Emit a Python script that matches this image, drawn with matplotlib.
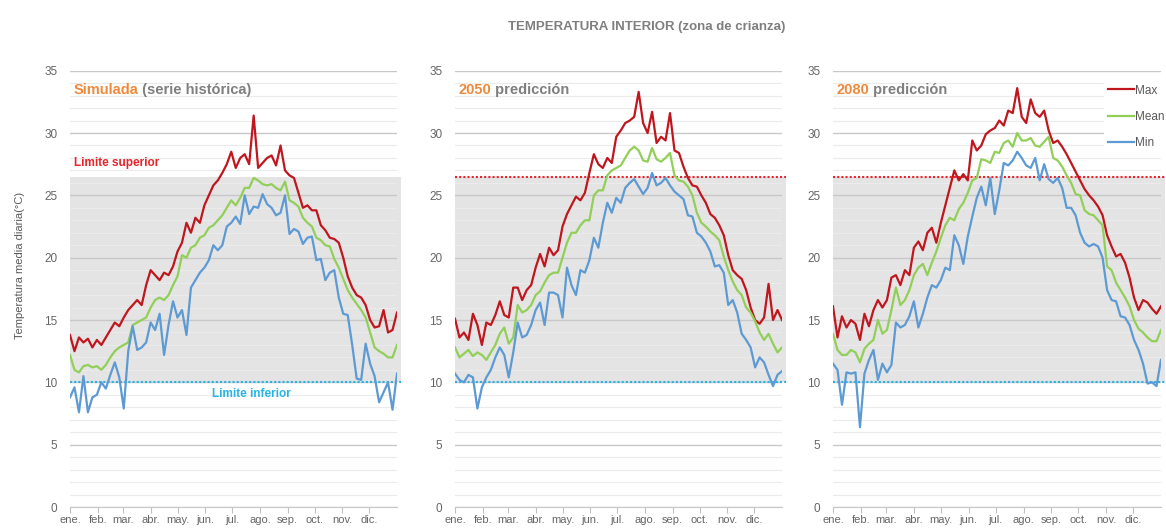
import matplotlib
matplotlib.use("Agg")
import matplotlib.pyplot as plt
from matplotlib import font_manager
from matplotlib.ticker import MultipleLocator

# narrow sans if the system has it, otherwise the regular one
installed = {f.name for f in font_manager.fontManager.ttflist}
base_font = "Liberation Sans Narrow" if "Liberation Sans Narrow" in installed else "Liberation Sans"
plt.rcParams["font.family"] = [base_font, "DejaVu Sans"]

# day of year, sampled every 5 days
days = list(range(0, 366, 5))

month_starts = [0, 31, 59, 90, 120, 151, 181, 212, 243, 273, 304, 334]
month_labels = ["ene.", "feb.", "mar.", "abr.", "may.", "jun.",
                "jul.", "ago.", "sep.", "oct.", "nov.", "dic."]

limit_low = 10.0
limit_high = 26.5

# simulated historical series (°C)
hist_max = [13.8, 12.5, 13.6, 13.2, 13.5, 12.8, 13.4, 13.0, 13.6, 14.2,
            14.8, 14.5, 15.2, 15.8, 16.2, 16.6, 16.2, 17.8, 19.0, 18.6,
            18.2, 18.8, 18.6, 19.3, 20.5, 21.2, 22.8, 22.0, 23.2, 22.8,
            24.2, 25.0, 25.8, 26.2, 26.8, 27.5, 28.5, 27.2, 28.0, 28.3,
            27.5, 31.4, 27.2, 27.6, 28.0, 28.2, 27.4, 29.0, 27.0, 26.6,
            26.4, 25.2, 24.0, 24.2, 23.8, 23.8, 22.6, 22.2, 21.6, 21.5,
            21.2, 20.0, 18.5, 17.6, 17.0, 16.8, 16.2, 15.0, 14.4, 14.5,
            15.8, 14.0, 14.2, 15.6]
hist_mean = [12.2, 11.0, 10.8, 11.3, 11.4, 11.2, 11.3, 11.0, 11.4, 12.0,
             12.5, 12.8, 13.0, 13.2, 14.6, 14.8, 15.0, 15.2, 16.0, 16.6,
             16.8, 16.6, 17.0, 17.8, 18.5, 20.2, 20.0, 20.8, 21.0, 21.6,
             21.8, 22.4, 22.6, 23.0, 23.4, 24.0, 24.6, 24.2, 24.8, 25.6,
             25.6, 26.4, 26.2, 25.9, 25.8, 25.9, 25.6, 25.4, 26.1, 24.6,
             24.4, 24.1, 23.2, 22.8, 22.5, 21.6, 21.4, 21.0, 20.9, 19.9,
             19.2, 18.3, 17.4, 16.8, 16.3, 15.8, 15.2, 14.0, 12.8, 12.5,
             12.3, 12.0, 12.0, 13.0]
hist_min = [8.8, 9.6, 7.6, 10.5, 7.6, 8.8, 9.0, 10.0, 9.5, 10.6,
            11.6, 10.4, 7.9, 12.5, 14.5, 12.6, 12.8, 13.2, 14.8, 14.2,
            15.5, 12.2, 14.6, 16.5, 15.2, 15.8, 13.8, 17.6, 18.2, 18.8,
            19.2, 19.8, 21.0, 20.6, 21.0, 22.5, 22.8, 23.3, 22.7, 25.0,
            23.5, 24.1, 24.0, 25.1, 24.3, 24.0, 23.4, 23.6, 25.0, 21.9,
            22.3, 22.1, 21.1, 21.6, 21.7, 19.8, 19.9, 18.2, 18.8, 19.0,
            16.8, 15.5, 15.4, 13.0, 10.3, 10.2, 13.1, 11.5, 10.5, 8.4,
            9.2, 10.0, 7.8, 10.7]

# 2050 projection
p2050_max = [15.1, 13.6, 14.0, 13.4, 15.5, 14.6, 13.0, 14.8, 14.6, 15.4,
             16.5, 15.4, 15.2, 17.6, 17.6, 16.6, 17.4, 17.8, 19.2, 20.3,
             19.3, 20.8, 20.2, 20.6, 22.5, 23.5, 24.2, 24.9, 24.6, 25.2,
             26.8, 28.3, 27.5, 27.2, 28.0, 27.6, 29.7, 30.2, 30.8, 31.0,
             31.3, 33.3, 30.8, 30.0, 31.7, 29.2, 29.7, 29.4, 31.6, 28.6,
             28.4, 27.3, 26.4, 25.8, 25.7, 25.0, 24.4, 23.5, 23.2, 22.6,
             21.8, 20.2, 19.0, 18.6, 18.3, 17.4, 16.0, 15.0, 14.7, 15.2,
             17.9, 15.0, 15.8, 15.0]
p2050_mean = [12.8, 12.0, 12.3, 12.6, 12.1, 12.4, 12.2, 11.8, 12.4, 13.0,
              13.9, 14.4, 13.1, 13.6, 16.2, 15.6, 15.8, 16.2, 17.0, 17.3,
              18.0, 18.6, 18.8, 18.8, 20.0, 21.2, 22.0, 22.0, 22.6, 23.0,
              23.0, 25.0, 25.4, 25.4, 26.6, 27.0, 27.2, 27.4, 28.0, 28.6,
              28.9, 28.6, 27.8, 27.7, 28.8, 27.9, 27.7, 28.0, 28.4, 26.6,
              26.2, 26.1, 25.7, 25.0, 23.6, 22.8, 22.5, 22.1, 21.8, 21.4,
              20.1, 19.0, 18.1, 17.4, 17.0, 16.0, 15.6, 14.9, 14.0, 13.4,
              13.9, 13.1, 12.4, 12.8]
p2050_min = [10.7, 10.2, 10.0, 10.6, 10.4, 7.9, 9.6, 10.4, 11.0, 12.0,
             12.8, 12.2, 10.4, 12.4, 14.8, 13.6, 13.8, 14.6, 15.8, 16.4,
             14.6, 17.2, 17.2, 17.0, 15.2, 19.2, 17.8, 17.0, 19.0, 18.8,
             19.8, 21.6, 20.8, 22.8, 24.4, 23.6, 24.8, 24.4, 25.6, 26.0,
             26.3, 25.7, 25.1, 25.6, 26.8, 25.8, 26.0, 26.4, 25.8, 25.3,
             25.0, 24.7, 23.4, 23.3, 22.0, 21.7, 21.2, 20.5, 19.3, 19.4,
             18.8, 16.2, 16.6, 15.6, 13.9, 13.4, 12.8, 11.2, 12.0, 11.6,
             10.6, 9.7, 10.6, 10.9]

# 2080 projection
p2080_max = [16.1, 13.6, 15.3, 14.4, 15.0, 14.7, 13.4, 15.5, 14.5, 15.8,
             16.6, 16.0, 16.6, 18.4, 18.6, 17.8, 19.0, 18.6, 20.8, 21.3,
             20.6, 22.0, 22.4, 21.2, 22.8, 24.2, 25.6, 27.0, 26.2, 26.7,
             26.2, 29.4, 28.6, 29.0, 29.9, 30.2, 30.4, 31.0, 30.6, 31.8,
             31.6, 33.6, 31.3, 30.8, 32.7, 31.6, 31.3, 31.8, 30.2, 29.2,
             29.4, 28.9, 28.3, 27.6, 26.9, 26.2, 25.5, 25.0, 24.6, 24.1,
             23.4, 21.8, 20.9, 20.1, 20.3, 19.6, 18.4, 16.8, 15.8, 16.6,
             16.4, 15.9, 15.5, 16.1]
p2080_mean = [13.9, 12.6, 12.2, 12.2, 12.6, 12.4, 11.6, 12.7, 13.1, 13.4,
              15.0, 13.9, 14.2, 15.8, 17.6, 16.2, 16.6, 17.4, 18.6, 19.2,
              19.5, 18.6, 19.6, 20.5, 21.6, 22.6, 23.2, 23.0, 23.9, 24.4,
              25.2, 26.2, 26.4, 27.9, 27.8, 27.6, 28.5, 28.4, 29.2, 29.4,
              28.9, 30.0, 29.4, 29.4, 29.6, 29.0, 28.9, 29.3, 29.7, 28.0,
              27.8, 27.3, 26.6, 26.0, 25.1, 25.0, 23.8, 23.5, 23.4, 23.0,
              22.6, 19.3, 19.0, 18.0, 17.4, 16.8, 16.1, 15.0, 14.3, 14.0,
              13.6, 13.3, 13.3, 14.2]
p2080_min = [11.5, 11.0, 8.2, 10.8, 10.7, 10.8, 6.4, 10.7, 11.8, 12.6,
             10.2, 11.5, 10.8, 11.4, 14.8, 14.4, 14.6, 15.3, 16.5, 14.4,
             15.5, 16.8, 17.8, 17.6, 18.2, 19.2, 19.0, 21.8, 21.0, 19.5,
             21.7, 23.3, 24.8, 25.7, 24.2, 26.4, 23.5, 25.4, 27.6, 27.4,
             27.8, 28.5, 28.0, 27.4, 27.2, 28.0, 26.2, 27.5, 26.3, 26.0,
             26.4, 25.6, 24.0, 24.0, 23.4, 22.0, 21.2, 20.9, 21.1, 20.9,
             20.0, 17.4, 16.6, 16.5, 15.3, 15.2, 14.6, 13.4, 12.6, 11.5,
             9.9, 10.0, 9.7, 11.8]

COL_MAX = "#C0161E"
COL_MEAN = "#92CF58"
COL_MIN = "#5D9AD3"
COL_UPPER = "#E8242A"
COL_LOWER = "#27B4E4"
COL_ORANGE = "#EE8A3D"
COL_GREYTXT = "#7F7F7F"
COL_TICK = "#666666"

W, H = 1166, 528
fig = plt.figure(figsize=(W / 100, H / 100), dpi=100)


def panel_rect(x0, x1, y_bottom=507, y_top=70.7):
    return [x0 / W, (H - y_bottom) / H, (x1 - x0) / W, (y_bottom - y_top) / H]


def draw_panel(ax, tmax, tmean, tmin, head, tail, upper_line):
    ax.set_xlim(0, 365)
    ax.set_ylim(0, 35)

    # comfort band
    ax.axhspan(limit_low, limit_high, xmin=0, xmax=1.012, color="#E4E4E4",
               lw=0, zorder=0.1, clip_on=False)
    ax.axhline(limit_low, xmin=0, xmax=1.012, color=COL_LOWER, lw=1.5,
               ls=(0, (1, 1)), zorder=1.5, clip_on=False)
    if upper_line:
        ax.axhline(limit_high, xmin=0, xmax=1.012, color=COL_UPPER, lw=1.5,
                   ls=(0, (1, 1)), zorder=1.5, clip_on=False)

    l_max, = ax.plot(days, tmax, color=COL_MAX, lw=1.6, zorder=3, label="Max")
    l_mean, = ax.plot(days, tmean, color=COL_MEAN, lw=1.6, zorder=3, label="Mean")
    l_min, = ax.plot(days, tmin, color=COL_MIN, lw=1.6, zorder=3, label="Min")

    ax.yaxis.set_major_locator(MultipleLocator(5))
    ax.yaxis.set_minor_locator(MultipleLocator(1))
    ax.set_axisbelow(True)
    ax.grid(which="major", axis="y", color="#C8C8C8", lw=1.0)
    ax.grid(which="minor", axis="y", color="#EBEBEB", lw=0.8)

    ax.set_xticks(month_starts)
    ax.set_xticklabels(month_labels)
    ax.tick_params(axis="x", length=4, width=0.8, color="#BFBFBF",
                   labelsize=8, labelcolor=COL_TICK, pad=2)
    ax.tick_params(axis="y", which="both", length=0, labelsize=8.5,
                   labelcolor=COL_TICK, pad=9)

    for side in ("top", "right", "left"):
        ax.spines[side].set_visible(False)
    ax.spines["bottom"].set_color("#C8C8C8")
    ax.spines["bottom"].set_linewidth(0.8)

    t1 = ax.text(4, 32.9, head, color=COL_ORANGE, fontsize=10.5,
                 fontweight="bold", ha="left", va="bottom")
    ax.annotate(" " + tail, xy=(1, 0), xycoords=t1, ha="left", va="bottom",
                color=COL_GREYTXT, fontsize=10.5, fontweight="bold")
    return l_max, l_mean, l_min


ax1 = fig.add_axes(panel_rect(70, 397))
ax2 = fig.add_axes(panel_rect(455, 782))
ax3 = fig.add_axes(panel_rect(833, 1161))

draw_panel(ax1, hist_max, hist_mean, hist_min, "Simulada", "(serie histórica)", False)
draw_panel(ax2, p2050_max, p2050_mean, p2050_min, "2050", "predicción", True)
handles = draw_panel(ax3, p2080_max, p2080_mean, p2080_min, "2080", "predicción", True)

ax1.text(4, 27.6, "Limite superior", color=COL_UPPER, fontsize=8.5,
         fontweight="bold", ha="left", va="center")
ax1.text(203, 9.05, "Limite inferior", color=COL_LOWER, fontsize=8.5,
         fontweight="bold", ha="center", va="center")

leg = ax3.legend(handles=handles, loc="upper left",
                 bbox_to_anchor=(1104 / W, 1 - 81 / H), bbox_transform=fig.transFigure,
                 frameon=True, facecolor="white", edgecolor="none", framealpha=1,
                 fontsize=8.5, handlelength=2.2, handletextpad=0.15,
                 labelspacing=1.2, borderpad=0.3, borderaxespad=0)
for txt in leg.get_texts():
    txt.set_color("#595959")
leg.set_zorder(5)

fig.text(20 / W, 1 - 265 / H, "Temperatura media diaria(°C)", rotation=90,
         ha="center", va="center", fontsize=8, color="#595959")
fig.text(647 / W, 1 - 27 / H, "TEMPERATURA INTERIOR (zona de crianza)",
         ha="center", va="center", fontsize=9.5, fontweight="bold", color=COL_GREYTXT)

fig.savefig("out.png", dpi=100)
